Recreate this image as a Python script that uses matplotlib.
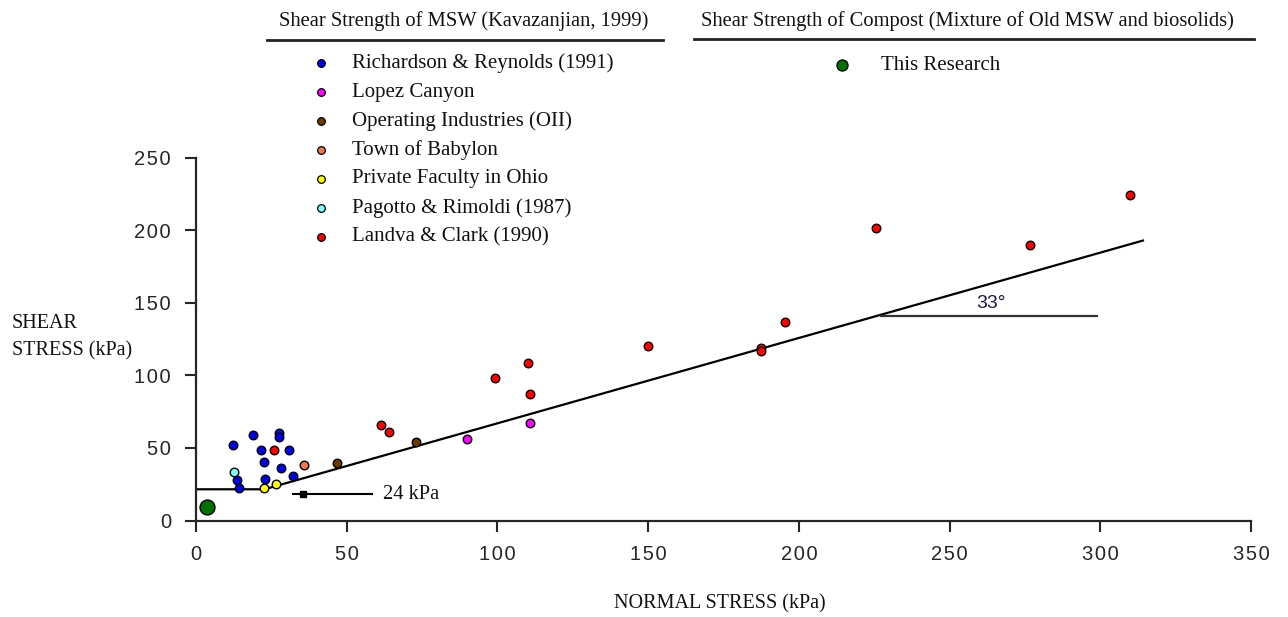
import matplotlib
matplotlib.use("Agg")
import matplotlib.pyplot as plt
from matplotlib.lines import Line2D

# ---------------- data ----------------
series_names = ["Richardson & Reynolds (1991)", "Lopez Canyon", "Operating Industries (OII)",
                "Town of Babylon", "Private Faculty in Ohio", "Pagotto & Rimoldi (1987)",
                "Landva & Clark (1990)"]
series_colors = ["#0000ee", "#ff00ff", "#6b3a00", "#f07850", "#ffff00", "#80ffff", "#ff0000"]

rr_x = [12.2, 19.0, 27.4, 27.4, 21.7, 30.8, 22.6, 28.3, 22.9, 32.1, 13.5, 14.4]
rr_y = [51.8, 58.9, 60.2, 57.8, 48.6, 48.6, 40.3, 35.9, 28.8, 30.6, 27.7, 22.2]
lopez_x = [90.0, 110.9]
lopez_y = [56.1, 67.4]
oii_x = [46.7, 73.1]
oii_y = [39.4, 53.9]
babylon_x = [35.7]
babylon_y = [38.2]
ohio_x = [22.4, 26.6]
ohio_y = [22.2, 24.9]
pagotto_x = [12.7]
pagotto_y = [33.6]
landva_x = [25.9, 61.4, 63.9, 99.2, 110.2, 110.9, 150.1, 187.5, 187.5, 195.3, 225.6, 276.8, 309.9]
landva_y = [48.6, 65.8, 61.2, 98.4, 108.5, 87.1, 120.4, 118.6, 116.4, 136.7, 201.4, 190.0, 224.2]
research_x = [3.8]
research_y = [9.1]

# failure envelope (bilinear)
env_x = [0, 22.7, 314.5]
env_y = [21.5, 21.5, 193.0]
# angle reference line
angle_ref_x = [227.2, 298.9]
angle_ref_y = [140.6, 140.6]
angle_label = "33°"
angle_label_xy = (263.6, 149.6)
# cohesion pointer
coh_x = [32.3, 58.4]
coh_y = [18.0, 18.0]
coh_head_x = 35.6
coh_label = "24 kPa"
coh_label_x = 62.0

x_ticks = [0, 50, 100, 150, 200, 250, 300, 350]
y_ticks = [0, 50, 100, 150, 200, 250]

xs = [rr_x, lopez_x, oii_x, babylon_x, ohio_x, pagotto_x, landva_x]
ys = [rr_y, lopez_y, oii_y, babylon_y, ohio_y, pagotto_y, landva_y]

# ---------------- figure ----------------
W, H = 1288, 617
fig = plt.figure(figsize=(W / 100, H / 100), dpi=100)
fig.patch.set_facecolor("white")

def fx(px):
    return px / W

def fy(py):
    return 1 - py / H

ax = fig.add_axes([fx(196), fy(520.5), fx(1251) - fx(196), fy(157.5) - fy(520.5)])

serif = "Liberation Serif"
sans = "Liberation Sans"
dark = "#262626"

# envelope lines
ax.plot(env_x, env_y, color="black", lw=1.6, zorder=2, solid_capstyle="butt")
ax.plot(angle_ref_x, angle_ref_y, color="#333333", lw=1.6, zorder=2)
ax.text(angle_label_xy[0], angle_label_xy[1], angle_label, fontsize=14, family=sans,
        color="#1a1a40", ha="center", va="center")

# cohesion pointer
ax.plot(coh_x, coh_y, color="black", lw=1.5, zorder=2)
ax.plot([coh_head_x], [coh_y[0]], marker="s", color="black", ms=5, zorder=3)
ax.text(coh_label_x, coh_y[0], coh_label, fontsize=14.8, family=serif, color="#111111",
        ha="left", va="center")

# data points
for x, y, c in zip(xs, ys, series_colors):
    ax.scatter(x, y, s=38, color=c, edgecolor="black", linewidth=1.0, zorder=4)
ax.scatter(research_x, research_y, s=115, color="#007000", edgecolor="black", linewidth=1.0,
           zorder=4)

ax.set_xlim(0, 350)
ax.set_ylim(0, 250)
ax.set_xticks(x_ticks)
ax.set_yticks(y_ticks)
sp = "\u200a"
ax.set_xticklabels([sp.join(str(t)) for t in x_ticks], family=sans, fontsize=14.5, color=dark)
ax.set_yticklabels([sp.join(str(t)) for t in y_ticks], family=sans, fontsize=14.5, color=dark)
ax.tick_params(axis="x", direction="out", length=8, width=1.5, pad=10, colors=dark)
ax.tick_params(axis="y", direction="out", length=8, width=1.5, pad=10, colors=dark)
for s in ["top", "right"]:
    ax.spines[s].set_visible(False)
for s in ["left", "bottom"]:
    ax.spines[s].set_linewidth(1.6)
    ax.spines[s].set_color(dark)

# axis labels
fig.text(fx(12), fy(323), "SHEAR", family=serif, fontsize=14.5, ha="left", va="center", color="#111111")
fig.text(fx(12), fy(351), "STRESS (kPa)", family=serif, fontsize=14.5, ha="left", va="center", color="#111111")
fig.text(fx(720), fy(604), "NORMAL STRESS (kPa)", family=serif, fontsize=14.5, ha="center",
         va="center", color="#111111")

# legend block 1
fig.text(fx(464), fy(21), "Shear Strength of MSW (Kavazanjian, 1999)", family=serif,
         fontsize=14.8, ha="center", va="center", color="#111111")
fig.add_artist(Line2D([fx(267), fx(663)], [fy(40), fy(40)], color="#222222", lw=2,
                      transform=fig.transFigure))
for i, (name, c) in enumerate(zip(series_names, series_colors)):
    yy = 63 + 29.0 * i
    fig.add_artist(Line2D([fx(321)], [fy(yy)], marker="o", ms=5.5, color=c,
                          markeredgecolor="black", markeredgewidth=0.9, linestyle="none",
                          transform=fig.transFigure))
    fig.text(fx(352), fy(yy), name, family=serif, fontsize=15, ha="left", va="center",
             color="#111111")

# legend block 2
fig.text(fx(967), fy(21), "Shear Strength of Compost (Mixture of Old MSW and biosolids)",
         family=serif, fontsize=14.8, ha="center", va="center", color="#111111")
fig.add_artist(Line2D([fx(694), fx(1254)], [fy(39), fy(39)], color="#222222", lw=2,
                      transform=fig.transFigure))
fig.add_artist(Line2D([fx(842)], [fy(65)], marker="o", ms=8, color="#007000",
                      markeredgecolor="black", markeredgewidth=0.9, linestyle="none",
                      transform=fig.transFigure))
fig.text(fx(881), fy(65), "This Research", family=serif, fontsize=15, ha="left",
         va="center", color="#111111")

fig.savefig("out.png", dpi=100, facecolor="white")
